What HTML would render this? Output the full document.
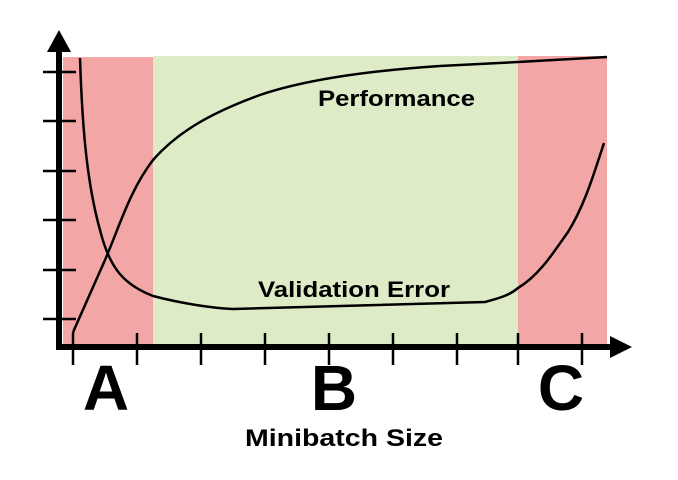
<!DOCTYPE html>
<html><head><style>body{margin:0;background:#fff}svg{display:block}</style></head><body>
<svg width="678" height="480" viewBox="0 0 678 480" xmlns="http://www.w3.org/2000/svg" font-family="Liberation Sans, sans-serif" font-weight="bold">
<rect x="63" y="57" width="90" height="290" fill="#f2a6a5"/>
<rect x="153" y="56" width="365" height="291" fill="#ddebc7"/>
<rect x="518" y="56" width="89" height="291" fill="#f2a6a5"/>
<g stroke="#000" stroke-width="2.5">
<line x1="43" y1="72" x2="76" y2="72"/><line x1="43" y1="121" x2="76" y2="121"/><line x1="43" y1="171" x2="76" y2="171"/><line x1="43" y1="220" x2="76" y2="220"/><line x1="43" y1="270" x2="76" y2="270"/><line x1="43" y1="319" x2="76" y2="319"/>
<line x1="73" y1="333" x2="73" y2="365"/><line x1="137" y1="333" x2="137" y2="365"/><line x1="201" y1="333" x2="201" y2="365"/><line x1="265" y1="333" x2="265" y2="365"/><line x1="329" y1="333" x2="329" y2="365"/><line x1="393" y1="333" x2="393" y2="365"/><line x1="457" y1="333" x2="457" y2="365"/><line x1="518" y1="333" x2="518" y2="365"/><line x1="582" y1="333" x2="582" y2="365"/>
</g>
<line x1="59" y1="48" x2="59" y2="349" stroke="#000" stroke-width="6"/>
<line x1="56" y1="347" x2="612" y2="347" stroke="#000" stroke-width="6"/>
<polygon points="59,30 47,52 71,52" fill="#000"/>
<polygon points="632,347 610,336 610,358" fill="#000"/>
<g fill="none" stroke="#000" stroke-width="2.5">
<path d="M73,333 L74,330 L105,260 C120,225 130,190 153,160 C175,135 205,115 260,95 C310,78 380,70 440,66 L518,62 L607,57"/>
<path d="M80,58 C82,120 86,180 100,230 C110,270 125,285 153,296 C180,303 210,308 233,309 L485,302 C500,298 510,295 518,288 C540,275 555,250 568,232 C585,205 595,170 604,143"/>
</g>
<text x="318" y="106" font-size="22" textLength="157" lengthAdjust="spacingAndGlyphs">Performance</text>
<text x="258" y="297" font-size="22" textLength="192" lengthAdjust="spacingAndGlyphs">Validation Error</text>
<text x="106" y="410" font-size="64" text-anchor="middle">A</text>
<text x="334" y="410" font-size="64" text-anchor="middle">B</text>
<text x="561" y="410" font-size="64" text-anchor="middle">C</text>
<text x="245" y="446" font-size="24" textLength="198" lengthAdjust="spacingAndGlyphs">Minibatch Size</text>
</svg>
</body></html>
